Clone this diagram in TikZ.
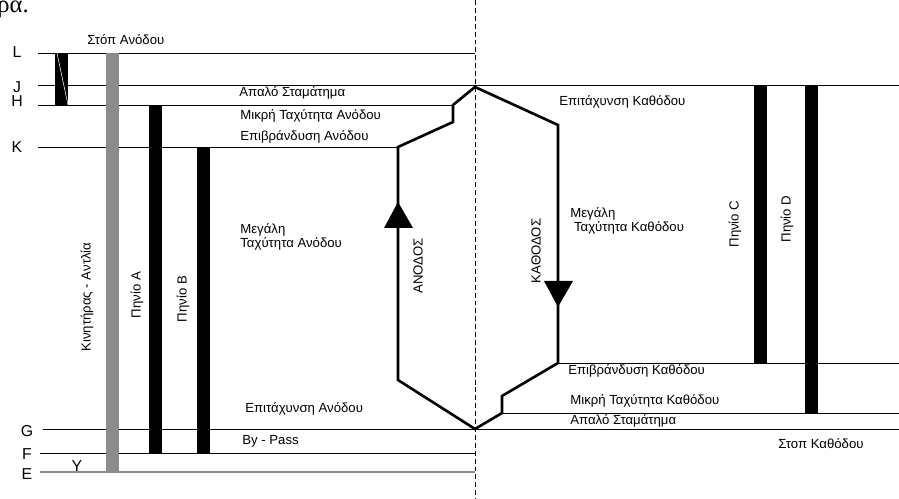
\documentclass[tikz,border=0pt]{standalone}
\usepackage{fontspec}
\setmainfont{Liberation Sans}
\newfontfamily\textserif{Liberation Serif}
\definecolor{bargray}{rgb}{0.55,0.55,0.55}

\begin{document}
\begin{tikzpicture}[x=0.2mm,y=-0.2mm,
  lbl/.style={font=\fontsize{7.5}{7.6}\selectfont, inner sep=0pt, anchor=west},
  vlbl/.style={font=\fontsize{7.5}{7.6}\selectfont, inner sep=0pt, rotate=90},
  lvl/.style={font=\fontsize{9}{9}\selectfont, inner sep=0pt},
  travel/.style={line width=1.5pt, line join=miter}]
\useasboundingbox (0,0) rectangle (899,499);

\node[font=\textserif\fontsize{14}{14}\selectfont, anchor=base west, inner sep=0pt] (prev) at (-3,13) {ρα.};

% levels
\node[lvl] (lL) at (17,52) {L};
\node[lvl] (lJ) at (17,87) {J};
\node[lvl] (lH) at (17,101) {H};
\node[lvl] (lK) at (17,147) {K};
\node[lvl] (lG) at (27,431) {G};
\node[lvl] (lF) at (27,454) {F};
\node[lvl] (lE) at (27,474) {E};
\node[lvl] (lY) at (77,466) {Y};

\draw (38,53) -- (475,53);
\draw (38,85) -- (899,85);
\draw (38,105) -- (453,105);
\draw (38,147) -- (398,147);
\draw (43,429) -- (899,429);
\draw (40,453) -- (475,453);
\draw[bargray, line width=0.9pt] (40,472) -- (475,472);
\draw (558,363) -- (899,363);
\draw (502,413) -- (899,413);

\draw[dash pattern=on 2.8pt off 1.7pt] (475,0) -- (475,499);

% up / down travel
\coordinate (top) at (475,87);
\coordinate (bot) at (475,429);
\draw[travel] (bot) -- (398,380) -- (398,147) -- (453,122) -- (453,105) -- (top)
  -- (558,125) -- (558,363) -- (502,396) -- (502,413) -- cycle;
\fill (398,202) -- (384,228) -- (413,228) -- cycle;
\fill (558,307) -- (544,281) -- (573,281) -- cycle;

% bars
\fill (55,53) rectangle (68,105);
\draw[white, line width=0.3pt] (57,53) -- (68,105);
\fill[bargray] (106,53) rectangle (119,472);
\fill (149,105) rectangle (162,453);
\fill (197,147) rectangle (210,453);
\fill (754,85) rectangle (767,363);
\fill (805,85) rectangle (818,413);

\node[vlbl] (pump) at (87,297) {Κινητήρας - Αντλία};
\node[vlbl] (coilA) at (137,295) {Πηνίο A};
\node[vlbl] (coilB) at (183,299) {Πηνίο B};
\node[vlbl] (coilC) at (735,224) {Πηνίο C};
\node[vlbl] (coilD) at (787,219) {Πηνίο D};
\node[vlbl] (up) at (418,266) {ΑΝΟΔΟΣ};
\node[vlbl] (down) at (536,251) {ΚΑΘΟΔΟΣ};

\node[lbl] (stopup) at (87,40) {Στόπ Ανόδου};
\node[lbl] (softup) at (239,93) {Απαλό Σταμάτημα};
\node[lbl] (slowup) at (240,116) {Μικρή Ταχύτητα Ανόδου};
\node[lbl] (brakeup) at (240,137) {Επιβράνδυση Ανόδου};
\node[lbl, align=left] (fastup) at (240,237) {Μεγάλη\\Ταχύτητα Ανόδου};
\node[lbl] (accup) at (245,409) {Επιτάχυνση Ανόδου};
\node[lbl] (bypass) at (242,441) {By - Pass};

\node[lbl] (accdown) at (559,102) {Επιτάχυνση Καθόδου};
\node[lbl, align=left] (fastdown) at (570,221) {Μεγάλη\\\ Ταχύτητα Καθόδου};
\node[lbl] (brakedown) at (568,371) {Επιβράνδυση Καθόδου};
\node[lbl] (slowdown) at (570,401) {Μικρή Ταχύτητα Καθόδου};
\node[lbl] (softdown) at (570,421) {Απαλό Σταμάτημα};
\node[lbl] (stopdown) at (778,444) {Στοπ Καθόδου};
\end{tikzpicture}
\end{document}
